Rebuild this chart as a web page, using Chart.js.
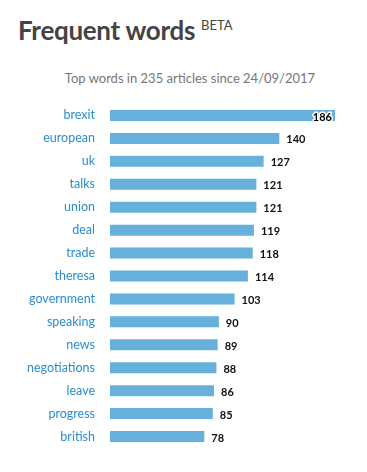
<!DOCTYPE html>
<html lang="en">
<head>
<meta charset="UTF-8">
<title>Frequent words</title>
<script src="https://cdn.jsdelivr.net/npm/chart.js"></script>
<style>
  body { margin: 0; background: #fff; font-family: Lato, "Open Sans", sans-serif; }
  .wrap { position: relative; width: 367px; height: 472px; }
  h1 { position: absolute; left: 18px; top: 14px; margin: 0; font-size: 26px; font-weight: 700; color: #444; letter-spacing: -0.3px; }
  h1 sup { font-size: 13px; font-weight: 400; color: #444; vertical-align: top; position: relative; top: 3px; margin-left: 6px; letter-spacing: 0; }
  .sub { position: absolute; left: 0; width: 380px; top: 70px; text-align: center; font-size: 13px; color: #777; }
  canvas { position: absolute; left: 0; top: 0; }
</style>
</head>
<body>
<div class="wrap">
  <h1>Frequent words<sup>BETA</sup></h1>
  <div class="sub">Top words in 235 articles since 24/09/2017</div>
  <canvas id="wordsChart" width="367" height="472"></canvas>
</div>
<script>
const words = ['brexit', 'european', 'uk', 'talks', 'union', 'deal', 'trade', 'theresa',
  'government', 'speaking', 'news', 'negotiations', 'leave', 'progress', 'british'];
const counts = [186, 140, 127, 121, 121, 119, 118, 114, 103, 90, 89, 88, 86, 85, 78];

// puts the count next to each bar, or inside it when it would leave the plot area
const valueLabels = {
  id: 'valueLabels',
  afterDatasetsDraw(chart) {
    const ctx = chart.ctx;
    const meta = chart.getDatasetMeta(0);
    ctx.save();
    ctx.font = 'bold 11px Lato, "Open Sans", sans-serif';
    ctx.textBaseline = 'middle';
    meta.data.forEach((bar, i) => {
      const txt = String(counts[i]);
      const w = ctx.measureText(txt).width;
      const y = bar.y + 1.5;
      if (bar.x + 7 + w > chart.chartArea.right) {
        ctx.textAlign = 'right';
        ctx.lineWidth = 3;
        ctx.lineJoin = 'round';
        ctx.strokeStyle = '#fff';
        ctx.strokeText(txt, bar.x - 3, y);
        ctx.fillStyle = '#000';
        ctx.fillText(txt, bar.x - 3, y);
      } else {
        ctx.textAlign = 'left';
        ctx.fillStyle = '#111';
        ctx.fillText(txt, bar.x + 7, y);
      }
    });
    ctx.restore();
  }
};

new Chart(document.getElementById('wordsChart'), {
  type: 'bar',
  data: {
    labels: words,
    datasets: [{
      data: counts,
      backgroundColor: '#66b0dc',
      categoryPercentage: 0.48,
      barPercentage: 1
    }]
  },
  options: {
    indexAxis: 'y',
    responsive: false,
    animation: false,
    layout: { padding: { top: 104, bottom: 24, right: 32, left: 0 } },
    plugins: { legend: { display: false }, tooltip: { enabled: false } },
    scales: {
      x: { display: false, min: 0, max: 186 },
      y: {
        grid: { display: false, drawTicks: false },
        border: { display: false },
        ticks: { color: '#2a8dd0', padding: 15, font: { size: 12.5, family: 'Lato, "Open Sans", sans-serif' } },
        afterFit(scale) { scale.width = 110; }
      }
    }
  },
  plugins: [valueLabels]
});
</script>
</body>
</html>
